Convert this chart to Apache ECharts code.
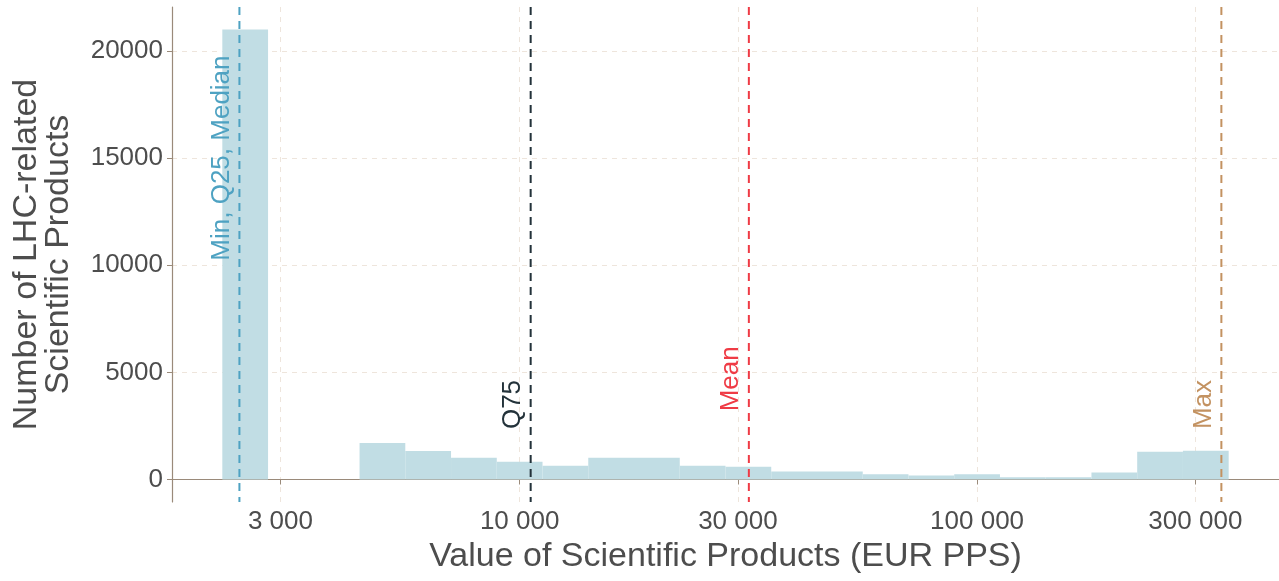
<!DOCTYPE html>
<html>
<head>
<meta charset="utf-8">
<script src="https://cdn.jsdelivr.net/npm/echarts@6/dist/echarts.min.js"></script>
<style>
  html, body { margin: 0; padding: 0; background: #fff; }
  #main { width: 1279px; height: 581px; }
</style>
</head>
<body>
<div id="main"></div>
<script>
// histogram bins, edges in log10(EUR PPS)
const binEdges = [3.35, 3.45, 3.55, 3.65, 3.75, 3.85, 3.95, 4.05, 4.15, 4.25, 4.35, 4.45,
  4.55, 4.65, 4.75, 4.85, 4.95, 5.05, 5.15, 5.25, 5.35, 5.45, 5.55]
const binCounts = [21000, 0, 0, 1700, 1330, 1010, 830, 640, 1010, 1010, 640, 600,
  370, 370, 250, 190, 250, 110, 110, 330, 1290, 1340]

// summary statistics (EUR PPS) and where their labels sit on the count axis
const statNames = ['Min, Q25, Median', 'Q75', 'Mean', 'Max']
const statValues = [2440, 10570, 31700, 342000]
const statLabelY = [15000, 3500, 4700, 3500]
const statColors = ['#4ea2c2', '#23323a', '#ef3b45', '#c39261']

const xTicks = [3000, 10000, 30000, 100000, 300000]
const yTicks = [0, 5000, 10000, 15000, 20000]

const axisColor = '#9a8a7a'
const gridColor = '#eee5dc'
const textColor = '#4d4d4d'
const font = '"Liberation Sans", Arial, sans-serif'

function fmt(v) {
  return String(Math.round(Math.pow(10, v))).replace(/\B(?=(\d{3})+(?!\d))/g, ' ')
}

const barData = binCounts.map((c, i) => [binEdges[i], binEdges[i + 1], c]).filter(d => d[2] > 0)
const statData = statValues.map((v, i) => [Math.log10(v), statLabelY[i], i])

const chart = echarts.init(document.getElementById('main'), null, { renderer: 'canvas' })

const option = {
  animation: false,
  grid: { left: 172, right: 0, top: 7, bottom: 79, containLabel: false, outerBoundsMode: 'none' },
  xAxis: {
    type: 'value',
    min: 3.24,
    max: 5.66,
    name: 'Value of Scientific Products (EUR PPS)',
    nameLocation: 'middle',
    nameGap: 37,
    nameTextStyle: { fontSize: 34, color: textColor, fontFamily: font },
    axisLine: { lineStyle: { color: axisColor, width: 1.2 } },
    axisTick: { show: true, length: 5, customValues: xTicks.map(v => Math.log10(v)), lineStyle: { color: axisColor } },
    axisLabel: {
      customValues: xTicks.map(v => Math.log10(v)),
      formatter: fmt,
      fontSize: 26, color: textColor, fontFamily: font, margin: 7
    },
    splitLine: { show: true, lineStyle: { color: gridColor, type: [5, 5], width: 1 } }
  },
  yAxis: {
    type: 'value',
    min: -1050,
    max: 22050,
    name: 'Number of LHC-related\nScientific Products',
    nameLocation: 'middle',
    nameGap: 97,
    nameTextStyle: { fontSize: 34, lineHeight: 32, color: textColor, fontFamily: font },
    axisLine: { show: true, lineStyle: { color: axisColor, width: 1.2 } },
    axisTick: { show: true, length: 5, customValues: yTicks, lineStyle: { color: axisColor } },
    axisLabel: { customValues: yTicks, formatter: v => String(v), fontSize: 26, color: textColor, fontFamily: font, margin: 9 },
    splitLine: { show: true, lineStyle: { color: gridColor, type: [5, 5], width: 1 } }
  },
  series: [
    {
      type: 'custom',
      data: barData,
      renderItem: function (params, api) {
        const p1 = api.coord([api.value(0), api.value(2)])
        const p2 = api.coord([api.value(1), 0])
        return {
          type: 'rect',
          shape: { x: p1[0], y: p1[1], width: p2[0] - p1[0], height: p2[1] - p1[1] },
          style: { fill: '#c1dde4' }
        }
      }
    },
    {
      type: 'custom',
      data: statData,
      z: 5,
      renderItem: function (params, api) {
        const cs = params.coordSys
        const i = api.value(2)
        const p = api.coord([api.value(0), api.value(1)])
        return {
          type: 'group',
          children: [
            {
              type: 'line',
              shape: { x1: p[0], y1: cs.y, x2: p[0], y2: cs.y + cs.height },
              style: { stroke: statColors[i], lineWidth: 2, lineDash: [8, 6] }
            },
            {
              type: 'text',
              x: p[0] - 18,
              y: p[1],
              rotation: Math.PI / 2,
              style: {
                text: statNames[i],
                fill: statColors[i],
                font: '26px ' + font,
                align: 'center',
                verticalAlign: 'middle'
              }
            }
          ]
        }
      }
    }
  ]
}

chart.setOption(option)
</script>
</body>
</html>
